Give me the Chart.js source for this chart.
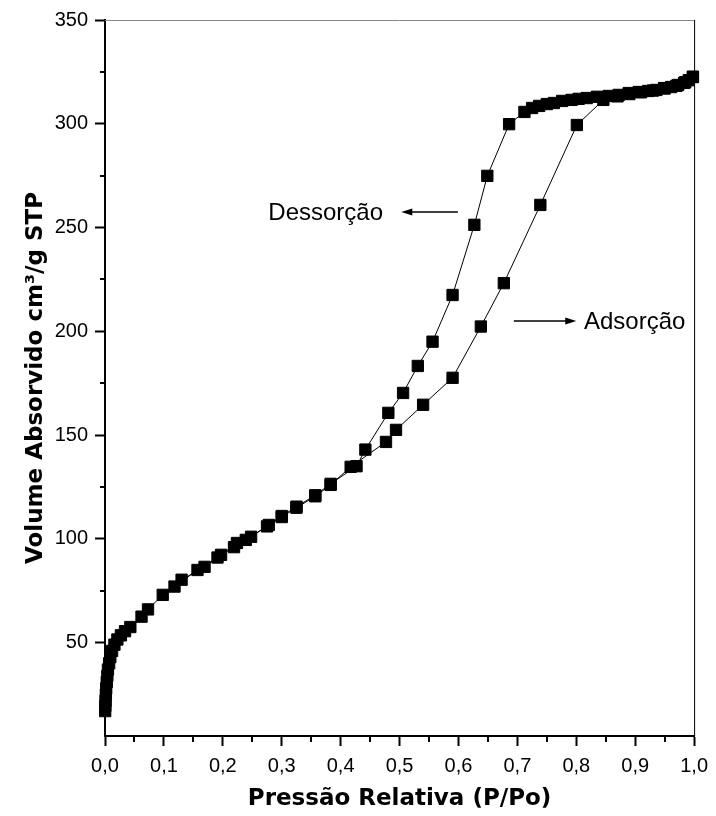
<!DOCTYPE html>
<html>
<head>
<meta charset="utf-8">
<script src="https://cdn.jsdelivr.net/npm/chart.js@4"></script>
<style>
  html, body { margin: 0; padding: 0; background: #fff; }
  #wrap { width: 716px; height: 816px; }
</style>
</head>
<body>
<div id="wrap"><canvas id="myChart" width="716" height="816"></canvas></div>
<script>
  // adsorption branch (P/Po, volume)
  const adsX = [0.0003, 0.0006, 0.001, 0.0015, 0.002, 0.003, 0.004, 0.005, 0.007, 0.009, 0.012, 0.016, 0.021, 0.027, 0.034, 0.043, 0.062, 0.073, 0.098, 0.118, 0.157, 0.191, 0.219, 0.239, 0.275, 0.300, 0.325, 0.357, 0.383, 0.417, 0.477, 0.494, 0.540, 0.590, 0.638, 0.677, 0.739, 0.801, 0.846, 0.870, 0.890, 0.910, 0.930, 0.950, 0.970, 0.985, 0.998];
  const adsY = [17, 19.5, 22, 25, 28, 31, 34, 37, 40, 43, 46, 49, 51.5, 53.5, 55.5, 57.5, 62.5, 66, 73, 77, 85, 91, 96, 99.5, 106, 110.5, 115, 120.5, 126, 134.7, 146.7, 152.5, 164.6, 177.6, 202.3, 223.2, 260.9, 299.4, 311.5, 313.2, 314.3, 315.2, 316, 317, 318.3, 320, 322.7];

  // desorption branch, from high pressure down
  const desX = [0.998, 0.991, 0.983, 0.973, 0.961, 0.949, 0.936, 0.922, 0.906, 0.889, 0.872, 0.855, 0.835, 0.818, 0.804, 0.792, 0.776, 0.762, 0.750, 0.737, 0.725, 0.712, 0.686, 0.649, 0.627, 0.590, 0.556, 0.531, 0.506, 0.481, 0.442, 0.427, 0.383, 0.357, 0.325, 0.300, 0.278, 0.248, 0.224, 0.197, 0.169, 0.130];
  const desY = [322.5, 321, 319.7, 318.7, 317.7, 317.2, 316.3, 315.8, 315.3, 314.8, 313.9, 313.4, 313, 312.4, 312, 311.5, 311, 310, 309.5, 308.6, 307.6, 305.7, 299.8, 274.9, 251.3, 217.5, 195, 183.3, 170.3, 160.7, 143, 135, 126.5, 121, 115.5, 111, 106.7, 101, 98, 92.3, 86.5, 80.3];

  const yMajor = [50, 100, 150, 200, 250, 300, 350];
  const yMinor = [25, 75, 125, 175, 225, 275, 325];
  const xMinor = [0.05, 0.15, 0.25, 0.35, 0.45, 0.55, 0.65, 0.75, 0.85, 0.95];

  const toPts = (xs, ys) => xs.map((x, i) => ({ x: x, y: ys[i] }));

  // annotation anchors in data units
  const desLabel = { text: "Dessorção", x: 0.472, y: 257.5, arrowFrom: 0.599, arrowTo: 0.503 };
  const adsLabel = { text: "Adsorção", x: 0.813, y: 205, arrowFrom: 0.694, arrowTo: 0.800 };

  const extras = {
    id: "extras",
    afterDraw(chart) {
      const { ctx, chartArea: a, scales: { x, y } } = chart;
      ctx.save();
      ctx.strokeStyle = "#000";
      ctx.lineWidth = 2;
      ctx.beginPath();
      yMinor.forEach(v => {
        const py = Math.round(y.getPixelForValue(v));
        ctx.moveTo(a.left - 5, py); ctx.lineTo(a.left, py);
      });
      xMinor.forEach(v => {
        const px = Math.round(x.getPixelForValue(v));
        ctx.moveTo(px, a.bottom); ctx.lineTo(px, a.bottom + 6);
      });
      ctx.stroke();

      // top and right frame
      ctx.lineWidth = 1;
      ctx.strokeStyle = "#888";
      ctx.beginPath();
      ctx.moveTo(a.left, a.top + 0.5); ctx.lineTo(a.right, a.top + 0.5);
      ctx.stroke();
      ctx.strokeStyle = "#000";
      ctx.beginPath();
      ctx.moveTo(a.right + 0.5, a.top); ctx.lineTo(a.right + 0.5, a.bottom);
      ctx.stroke();

      // labels with arrows
      ctx.fillStyle = "#000";
      ctx.font = "24px 'Liberation Sans', Arial, sans-serif";
      ctx.textBaseline = "middle";
      const arrow = (lab) => {
        const py = y.getPixelForValue(lab.y);
        const x1 = x.getPixelForValue(lab.arrowFrom);
        const x2 = x.getPixelForValue(lab.arrowTo);
        const dir = x2 > x1 ? 1 : -1;
        ctx.lineWidth = 1.5;
        ctx.beginPath();
        ctx.moveTo(x1, py); ctx.lineTo(x2 - dir * 8, py);
        ctx.stroke();
        ctx.beginPath();
        ctx.moveTo(x2, py);
        ctx.lineTo(x2 - dir * 11, py - 3.5);
        ctx.lineTo(x2 - dir * 11, py + 3.5);
        ctx.closePath();
        ctx.fill();
      };
      arrow(desLabel);
      arrow(adsLabel);
      ctx.textAlign = "right";
      ctx.fillText(desLabel.text, x.getPixelForValue(desLabel.x), y.getPixelForValue(desLabel.y) + 1);
      ctx.textAlign = "left";
      ctx.fillText(adsLabel.text, x.getPixelForValue(adsLabel.x), y.getPixelForValue(adsLabel.y) + 1);
      ctx.restore();
    }
  };

  const series = (data) => ({
    data: data,
    borderColor: "#000",
    backgroundColor: "#000",
    borderWidth: 1,
    pointStyle: "rect",
    pointRadius: 8,
    pointBorderWidth: 1,
    pointBackgroundColor: "#000",
    pointBorderColor: "#000",
    showLine: true,
    tension: 0,
    clip: false,
  });

  const ctx = document.getElementById("myChart").getContext("2d");
  new Chart(ctx, {
    type: "scatter",
    data: {
      datasets: [series(toPts(adsX, adsY)), series(toPts(desX, desY))],
    },
    options: {
      responsive: false,
      animation: false,
      events: [],
      layout: { padding: { top: 20, right: 18, left: 0, bottom: 0 } },
      plugins: { legend: { display: false }, tooltip: { enabled: false } },
      scales: {
        x: {
          type: "linear",
          min: 0,
          max: 1,
          afterFit: (s) => { s.height = 80; },
          ticks: {
            stepSize: 0.1,
            color: "#000",
            padding: 8,
            font: { family: "'Liberation Sans', Arial, sans-serif", size: 20 },
            callback: (v) => v.toFixed(1).replace(".", ","),
          },
          grid: { drawOnChartArea: false, tickLength: 10, tickWidth: 2, tickColor: "#000" },
          border: { color: "#000", width: 2 },
          title: {
            display: true,
            text: "Pressão Relativa (P/Po)",
            color: "#000",
            font: { family: "'DejaVu Sans', sans-serif", size: 23, weight: "bold" },
            padding: { top: 0, bottom: 3 },
          },
        },
        y: {
          type: "linear",
          min: 5,
          max: 350,
          afterFit: (s) => { s.width = 105; },
          afterBuildTicks: (s) => { s.ticks = yMajor.map(v => ({ value: v })); },
          ticks: {
            color: "#000",
            padding: 7,
            font: { family: "'Liberation Sans', Arial, sans-serif", size: 20 },
          },
          grid: { drawOnChartArea: false, tickLength: 10, tickWidth: 2, tickColor: "#000" },
          border: { color: "#000", width: 2 },
          title: {
            display: true,
            text: "Volume Absorvido cm³/g STP",
            color: "#000",
            font: { family: "'DejaVu Sans', sans-serif", size: 23, weight: "bold" },
            padding: { top: 22, bottom: 0 },
          },
        },
      },
    },
    plugins: [extras],
  });
</script>
</body>
</html>
